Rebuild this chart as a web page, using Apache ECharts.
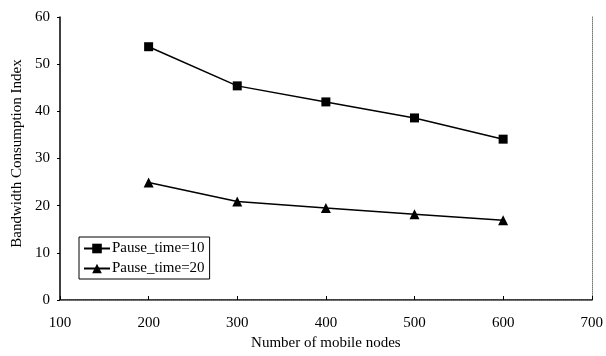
<!DOCTYPE html>
<html>
<head>
<meta charset="utf-8">
<script src="https://cdn.jsdelivr.net/npm/echarts@6/dist/echarts.min.js"></script>
<style>
  html, body { margin: 0; padding: 0; background: #fff; }
  #chart { width: 606px; height: 356px; }
</style>
</head>
<body>
<div id="chart"></div>
<script>
const nodes = [200, 300, 400, 500, 600]
const pause10 = [53.7, 45.4, 42.0, 38.6, 34.1]
const pause20 = [24.9, 20.9, 19.5, 18.2, 16.9]

const font = 'Liberation Serif'
const chart = echarts.init(document.getElementById('chart'))

const dotted = {show: true, lineStyle: {color: '#777', type: 'dotted', width: 1}}

let option = {
  animation: false,
  textStyle: {fontFamily: font},
  grid: {left: 60, right: 13, top: 17, bottom: 56},
  legend: {
    orient: 'vertical',
    left: 79,
    top: 237,
    padding: [4, 5, 3, 4],
    itemGap: 5,
    itemWidth: 26,
    itemHeight: 12,
    borderColor: '#000',
    borderWidth: 1,
    borderRadius: 0,
    textStyle: {fontFamily: font, fontSize: 15, color: '#000', padding: [0, 0, 0, -3]},
    data: ['Pause_time=10', 'Pause_time=20']
  },
  xAxis: [
    {
      type: 'value',
      min: 100,
      max: 700,
      interval: 100,
      name: 'Number of mobile nodes',
      nameLocation: 'middle',
      nameGap: 36,
      nameTextStyle: {fontFamily: font, fontSize: 15, color: '#000'},
      axisLine: {lineStyle: {color: '#000', width: 1.5}},
      axisTick: {inside: true, length: 4, lineStyle: {color: '#000'}},
      axisLabel: {fontFamily: font, fontSize: 15, color: '#000', margin: 16},
      splitLine: {show: false}
    },
    {
      type: 'value',
      position: 'top',
      min: 100,
      max: 700,
      axisLine: dotted,
      axisTick: {show: false},
      axisLabel: {show: false},
      splitLine: {show: false}
    }
  ],
  yAxis: [
    {
      type: 'value',
      min: 0,
      max: 60,
      interval: 10,
      name: 'Bandwidth Consumption Index',
      nameLocation: 'middle',
      nameGap: 35,
      nameTextStyle: {fontFamily: font, fontSize: 15, color: '#000', padding: [0, 0, 0, 10]},
      axisLine: {show: true, lineStyle: {color: '#000', width: 1.5}},
      axisTick: {show: true, length: 3, lineStyle: {color: '#000'}},
      axisLabel: {fontFamily: font, fontSize: 15, color: '#000', margin: 10},
      splitLine: {show: false}
    },
    {
      type: 'value',
      position: 'right',
      min: 0,
      max: 60,
      axisLine: dotted,
      axisTick: {show: false},
      axisLabel: {show: false},
      splitLine: {show: false}
    }
  ],
  series: [
    {
      name: 'Pause_time=10',
      type: 'line',
      symbol: 'rect',
      symbolSize: 9,
      itemStyle: {color: '#000'},
      lineStyle: {color: '#000', width: 1.5},
      data: nodes.map((n, i) => [n, pause10[i]])
    },
    {
      name: 'Pause_time=20',
      type: 'line',
      symbol: 'triangle',
      symbolSize: 10,
      itemStyle: {color: '#000'},
      lineStyle: {color: '#000', width: 1.5},
      data: nodes.map((n, i) => [n, pause20[i]])
    }
  ]
}
chart.setOption(option)
</script>
</body>
</html>
